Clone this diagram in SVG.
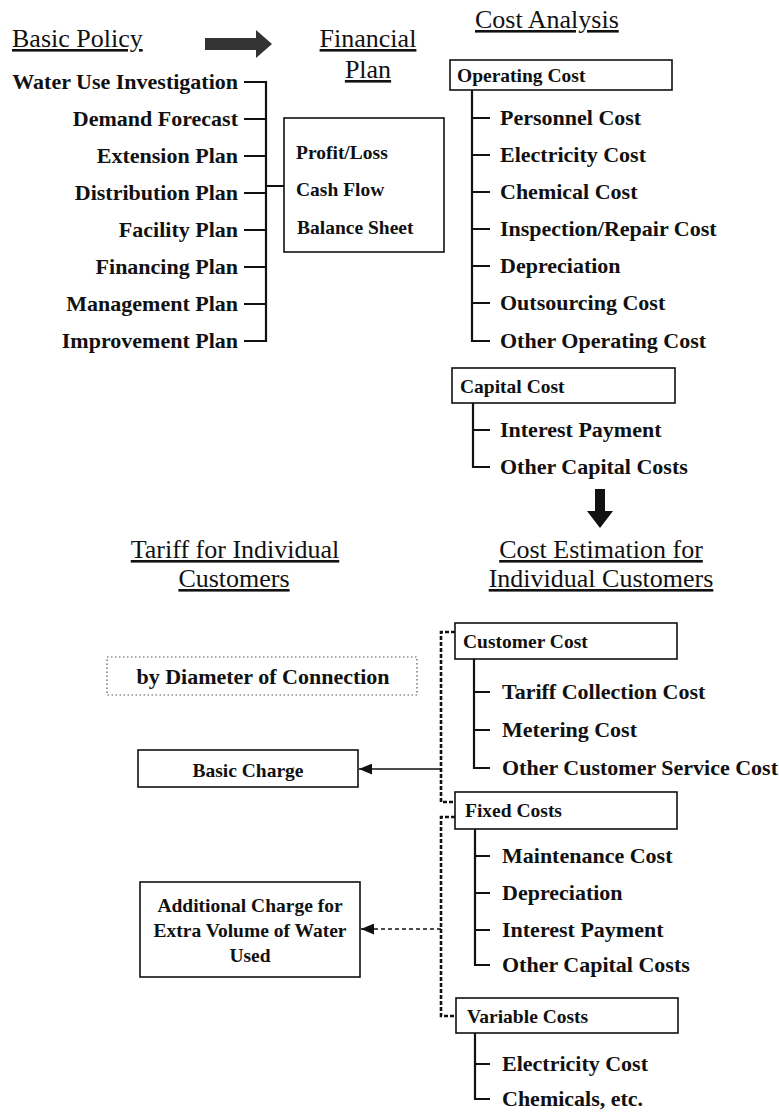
<svg xmlns="http://www.w3.org/2000/svg" width="779" height="1113" viewBox="0 0 779 1113">
<style>
.h{font-family:"Liberation Serif","Times New Roman",serif;font-size:26px;text-decoration:underline;fill:#111}
.it{font-family:"Liberation Serif","Times New Roman",serif;font-size:22px;font-weight:bold;fill:#111}
.bx{font-family:"Liberation Serif","Times New Roman",serif;font-size:19.5px;font-weight:bold;fill:#111}
.box{fill:#fff;stroke:#111;stroke-width:1.6}
.dot{fill:#fff;stroke:#555;stroke-width:1.2;stroke-dasharray:1.5 2.5}
.ln{stroke:#111;stroke-width:1.6;fill:none}
.br{stroke:#111;stroke-width:2.2;fill:none}
.dbr{stroke:#111;stroke-width:2.6;fill:none;stroke-dasharray:4 2}
.dar{stroke:#111;stroke-width:1.6;fill:none;stroke-dasharray:4 3}
.e{text-anchor:end}
.m{text-anchor:middle}
</style>
<defs>
<marker id="ah" viewBox="0 0 10 10" refX="10" refY="5" markerWidth="7" markerHeight="7" markerUnits="userSpaceOnUse" orient="auto">
<path d="M0,0 L10,5 L0,10 z" fill="#111"/>
</marker>
<marker id="ah2" viewBox="0 0 12 10" refX="12" refY="5" markerWidth="13" markerHeight="11" orient="auto" markerUnits="userSpaceOnUse">
<path d="M0,0 L12,5 L0,10 z" fill="#111"/>
</marker>
</defs>

<!-- Titles -->
<g id="title-basic-policy"><text class="h" x="12" y="47">Basic Policy</text></g>
<g id="title-financial-plan"><text class="h m" x="368" y="47">Financial</text><text class="h m" x="368" y="78">Plan</text></g>
<g id="title-cost-analysis"><text class="h" x="475" y="28">Cost Analysis</text></g>
<g id="title-tariff"><text class="h m" x="235" y="558">Tariff for Individual</text><text class="h m" x="234" y="587">Customers</text></g>
<g id="title-cost-estimation"><text class="h m" x="601" y="558">Cost Estimation for</text><text class="h m" x="601" y="587">Individual Customers</text></g>

<!-- Big arrows -->
<g id="arrow-right"><path d="M205,38 L256,38 L256,30 L272,44 L256,58 L256,50 L205,50 z" fill="#333"/></g>
<g id="arrow-down"><path d="M595,489 L605,489 L605,511 L613,511 L600,528 L587,511 L595,511 z" fill="#111"/></g>

<!-- Connectors -->
<g id="connectors">
<path class="br" d="M244,82 H266 V341 H244 M244,119 H266 M244,156 H266 M244,193 H266 M244,230 H266 M244,267 H266 M244,304 H266 M266,186 H284"/>
<path class="br" d="M472,90 V341 H490 M472,118 H490 M472,155 H490 M472,192 H490 M472,229 H490 M472,266 H490 M472,303 H490"/>
<path class="br" d="M473,403 V467 H490 M473,430 H490"/>
<path class="br" d="M474,659 V768 H490 M474,692 H490 M474,730 H490"/>
<path class="br" d="M475,829 V965 H490 M475,856 H490 M475,893 H490 M475,930 H490"/>
<path class="br" d="M475,1033 V1099 H490 M475,1064 H490"/>
<path class="dbr" d="M455,632 H441 V802 H455"/>
<path class="dbr" d="M455,817 H441 V1016 H457"/>
<path class="ln" d="M441,769 H359" marker-end="url(#ah2)"/>
<path class="dar" d="M441,929 H361" marker-end="url(#ah2)"/>
</g>

<!-- Basic policy items -->
<g id="policy-items">
<text class="it e" x="238" y="89">Water Use Investigation</text>
<text class="it e" x="238" y="126">Demand Forecast</text>
<text class="it e" x="238" y="163">Extension Plan</text>
<text class="it e" x="238" y="200">Distribution Plan</text>
<text class="it e" x="238" y="237">Facility Plan</text>
<text class="it e" x="238" y="274">Financing Plan</text>
<text class="it e" x="238" y="311">Management Plan</text>
<text class="it e" x="238" y="348">Improvement Plan</text>
</g>

<!-- Financial plan box -->
<g id="financial-plan-box">
<rect class="box" x="284" y="118" width="160" height="134"/>
<text class="bx" x="296" y="158.5">Profit/Loss</text>
<text class="bx" x="296" y="195.5">Cash Flow</text>
<text class="bx" x="297" y="233.5">Balance Sheet</text>
</g>

<!-- Operating cost -->
<g id="operating-cost">
<rect class="box" x="450" y="60" width="222" height="30"/>
<text class="bx" x="457" y="81.5">Operating Cost</text>
</g>
<g id="operating-items">
<text class="it" x="500" y="125">Personnel Cost</text>
<text class="it" x="500" y="162">Electricity Cost</text>
<text class="it" x="500" y="199">Chemical Cost</text>
<text class="it" x="500" y="236">Inspection/Repair Cost</text>
<text class="it" x="500" y="273">Depreciation</text>
<text class="it" x="500" y="310">Outsourcing Cost</text>
<text class="it" x="500" y="348">Other Operating Cost</text>
</g>

<!-- Capital cost -->
<g id="capital-cost">
<rect class="box" x="452" y="368" width="223" height="35"/>
<text class="bx" x="460" y="392.5">Capital Cost</text>
</g>
<g id="capital-items">
<text class="it" x="500" y="437">Interest Payment</text>
<text class="it" x="500" y="474">Other Capital Costs</text>
</g>

<!-- Tariff side -->
<g id="by-diameter">
<rect class="dot" x="107" y="657" width="310" height="38"/>
<text class="it m" x="263" y="684">by Diameter of Connection</text>
</g>
<g id="basic-charge">
<rect class="box" x="138" y="750" width="220" height="37"/>
<text class="bx m" x="248" y="776.5">Basic Charge</text>
</g>
<g id="additional-charge">
<rect class="box" x="140" y="882" width="220" height="95"/>
<text class="bx m" x="250" y="911.5">Additional Charge for</text>
<text class="bx m" x="250" y="936.5">Extra Volume of Water</text>
<text class="bx m" x="250" y="961.5">Used</text>
</g>

<!-- Customer cost -->
<g id="customer-cost">
<rect class="box" x="455" y="623" width="222" height="36"/>
<text class="bx" x="463" y="647.5">Customer Cost</text>
</g>
<g id="customer-items">
<text class="it" x="502" y="699">Tariff Collection Cost</text>
<text class="it" x="502" y="737">Metering Cost</text>
<text class="it" x="502" y="775">Other Customer Service Cost</text>
</g>

<!-- Fixed costs -->
<g id="fixed-costs">
<rect class="box" x="455" y="792" width="222" height="37"/>
<text class="bx" x="465" y="816.5">Fixed Costs</text>
</g>
<g id="fixed-items">
<text class="it" x="502" y="863">Maintenance Cost</text>
<text class="it" x="502" y="900">Depreciation</text>
<text class="it" x="502" y="937">Interest Payment</text>
<text class="it" x="502" y="972">Other Capital Costs</text>
</g>

<!-- Variable costs -->
<g id="variable-costs">
<rect class="box" x="456" y="998" width="222" height="35"/>
<text class="bx" x="467" y="1022.5">Variable Costs</text>
</g>
<g id="variable-items">
<text class="it" x="502" y="1071">Electricity Cost</text>
<text class="it" x="502" y="1106">Chemicals, etc.</text>
</g>
</svg>
